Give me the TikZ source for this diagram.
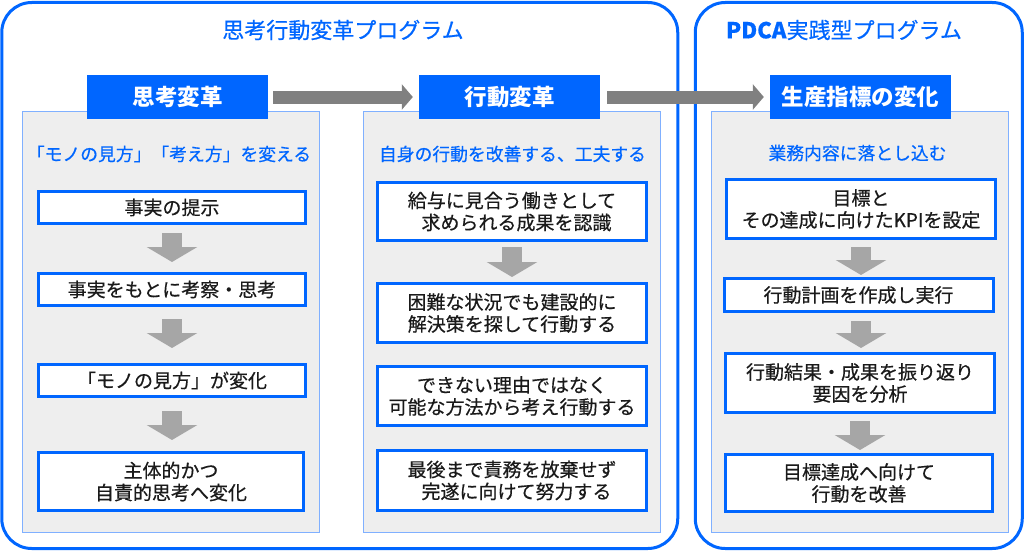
\documentclass[tikz,border=0pt]{standalone}
\usepackage{fontspec}
\setmainfont{Noto Sans CJK JP}
\newfontfamily\medfont[FakeBold=0.5]{Noto Sans CJK JP}
\usetikzlibrary{arrows.meta}
\definecolor{fblue}{HTML}{0066FF}
\definecolor{pborder}{HTML}{80B0FF}
\definecolor{pfill}{HTML}{EEEEEE}
\definecolor{bigarrow}{HTML}{808080}
\definecolor{smallarrow}{HTML}{A6A6A6}
\definecolor{txt}{HTML}{1A1A1A}
\begin{document}
\begin{tikzpicture}[x=1pt,y=-1pt,
  frame/.style={draw=fblue, line width=3pt, rounded corners=30pt},
  ptitle/.style={text=fblue, font=\medfont\fontsize{22pt}{26pt}\selectfont, inner sep=0pt},
  header/.style={fill=fblue, text=white, font=\bfseries\fontsize{22.5pt}{26pt}\selectfont, minimum width=181pt, minimum height=44pt, inner sep=0pt},
  panel/.style={fill=pfill, draw=pborder, line width=1pt, minimum width=297pt, minimum height=421pt, inner sep=0pt},
  sub/.style={text=fblue, font=\medfont\fontsize{17.8pt}{21pt}\selectfont, inner sep=0pt},
  stepbox/.style={fill=white, draw=fblue, line width=3pt, text=txt, align=center, inner sep=0pt, font=\medfont\fontsize{19pt}{22pt}\selectfont},
  bigarr/.style={draw=bigarrow, line width=13pt, -{Triangle[length=11pt,width=25pt]}},
  downarr/.style={draw=smallarrow, line width=20pt, -{Triangle[length=15pt,width=50pt]}},
]
\useasboundingbox (0,0) rectangle (1024,551);
% outer frames
\node[frame, minimum width=676pt, minimum height=546pt, inner sep=0pt] (f1) at (339.75,275.5) {};
\node[frame, minimum width=327pt, minimum height=546pt, inner sep=0pt] (f2) at (858.75,275.5) {};
\node[ptitle] (t1) at (343,30) {思考行動変革プログラム};
\node[ptitle] (t2) at (844,30) {\textbf{PDCA}実践型プログラム};
% panels
\node[panel] (pa) at (170.5,321.5) {};
\node[panel] (pb) at (511.5,321.5) {};
\node[panel] (pc) at (860,321.5) {};
% headers
\node[header] (h1) at (177.5,97) {思考変革};
\node[header] (h2) at (509.5,97) {行動変革};
\node[header] (h3) at (860.5,97) {生産指標の変化};
\draw[bigarr, shorten <=5pt, shorten >=6pt] (h1.east) -- (h2.west);
\draw[bigarr, shorten <=7pt, shorten >=6pt] (h2.east) -- (h3.west);
% subtitles
\node[sub] (s1) at (169,154) {「モノの見方」「考え方」を変える};
\node[sub] (s2) at (512.5,154) {自身の行動を改善する、工夫する};
\node[sub] (s3) at (857.5,153) {業務内容に落とし込む};
% panel 1 boxes
\node[stepbox, minimum width=267pt, minimum height=32pt] (a1) at (172,207.5) {事実の提示};
\node[stepbox, minimum width=267pt, minimum height=32pt] (a2) at (172,289.5) {事実をもとに考察・思考};
\node[stepbox, minimum width=267pt, minimum height=32pt] (a3) at (172,380.5) {「モノの見方」が変化};
\node[stepbox, minimum width=265pt, minimum height=58pt] (a4) at (171,481.5) {主体的かつ\\自責的思考へ変化};
\begin{scope}[xshift=6pt]
\draw[downarr, shorten <=8pt, shorten >=10pt] (a1.south) -- (a2.north);
\draw[downarr, shorten <=12pt, shorten >=15pt] (a2.south) -- (a3.north);
\draw[downarr, shorten <=13pt, shorten >=11pt] (a3.south) -- (a4.north -| a3.south);
\end{scope}
% panel 2 boxes
\node[stepbox, minimum width=269pt, minimum height=58pt] (b1) at (512,211.5) {給与に見合う働きとして\\\hspace*{9pt}求められる成果を認識};
\node[stepbox, minimum width=269pt, minimum height=59pt] (b2) at (512,313) {困難な状況でも建設的に\\解決策を探して行動する};
\node[stepbox, minimum width=269pt, minimum height=59pt] (b3) at (512,396) {できない理由ではなく\\可能な方法から考え行動する};
\node[stepbox, minimum width=269pt, minimum height=60pt] (b4) at (512,480.5) {最後まで責務を放棄せず\\\hspace*{9pt}完遂に向けて努力する};
\begin{scope}[xshift=4pt]
\draw[downarr, shorten <=5pt, shorten >=5pt] (b1.south) -- (b2.north);
\end{scope}
% panel 3 boxes
\node[stepbox, minimum width=269pt, minimum height=59pt] (c1) at (861,209) {目標と\\その達成に向けたKPIを設定};
\node[stepbox, minimum width=269pt, minimum height=33pt] (c2) at (858.5,295) {行動計画を作成し実行};
\node[stepbox, minimum width=269pt, minimum height=59pt] (c3) at (860,383) {行動結果・成果を振り返り\\要因を分析};
\node[stepbox, minimum width=267pt, minimum height=57pt] (c4) at (859,483) {目標達成へ向けて\\行動を改善};
\draw[downarr, shorten <=7pt, shorten >=2pt] (c1.south) -- (c2.north -| c1.south);
\draw[downarr, shorten <=8pt, shorten >=4pt] (c2.south -| c1.south) -- (c3.north -| c1.south);
\draw[downarr, shorten <=7pt, shorten >=3pt] (c3.south) -- (c4.north -| c3.south);
\end{tikzpicture}
\end{document}
